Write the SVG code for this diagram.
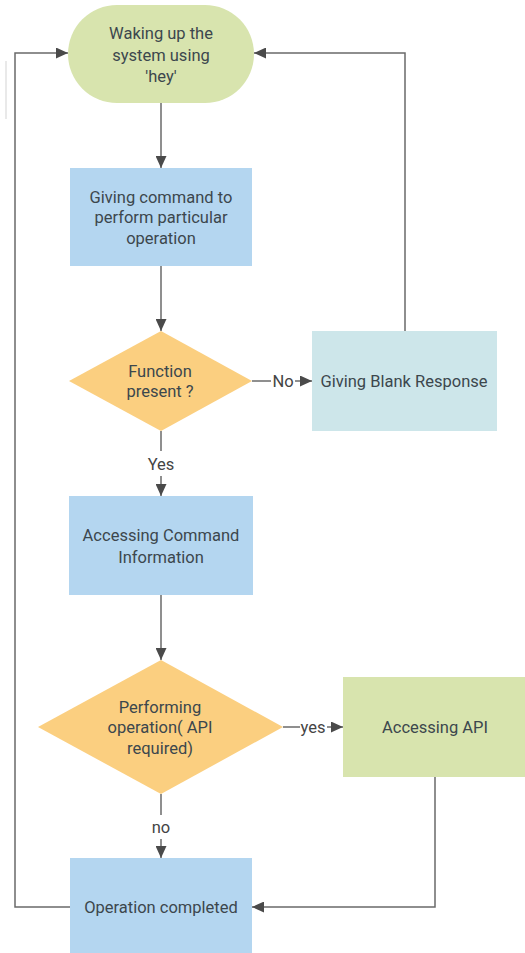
<svg xmlns="http://www.w3.org/2000/svg" width="525" height="953" viewBox="0 0 525 953">
<defs>
<marker id="ah" markerWidth="12" markerHeight="11" refX="12" refY="5.5" orient="auto" markerUnits="userSpaceOnUse">
<path d="M0,0 L12,5.5 L0,11 Z" fill="#4a4a4a"/>
</marker>
<style>
.t{font-family:Roboto,"Liberation Sans",sans-serif;font-size:16.5px;fill:#3c474d;text-anchor:middle;dominant-baseline:central}
.l{font-family:Roboto,"Liberation Sans",sans-serif;font-size:16.5px;fill:#444;text-anchor:middle;dominant-baseline:central}
.c{fill:none;stroke:#6a6a6a;stroke-width:1.5}
</style>
</defs>
<rect width="525" height="953" fill="#ffffff"/>
<line x1="6" y1="61" x2="6" y2="119" stroke="#e2e2e2" stroke-width="1.5"/>
<g id="start">
<rect x="68" y="5" width="186" height="98" rx="49" fill="#d8e4ae"/>
<text class="t" x="161" y="33">Waking up the</text>
<text class="t" x="161" y="55">system using</text>
<text class="t" x="161" y="76">'hey'</text>
</g>
<g id="command">
<rect x="70" y="168" width="182" height="98" fill="#b4d6f0"/>
<text class="t" x="161" y="197">Giving command to</text>
<text class="t" x="161" y="217">perform particular</text>
<text class="t" x="161" y="238">operation</text>
</g>
<g id="function">
<polygon points="161,331 252,381 161,431 69,381" fill="#fbcf80"/>
<text class="t" x="160" y="371">Function</text>
<text class="t" x="160" y="391">present ?</text>
</g>
<g id="blank">
<rect x="312" y="331" width="185" height="100" fill="#cde6ea"/>
<text class="t" x="404" y="381">Giving Blank Response</text>
</g>
<g id="access">
<rect x="69" y="496" width="184" height="99" fill="#b4d6f0"/>
<text class="t" x="161" y="535">Accessing Command</text>
<text class="t" x="161" y="557">Information</text>
</g>
<g id="perform">
<polygon points="161,660 283,727 161,794 38,727" fill="#fbcf80"/>
<text class="t" x="160" y="707">Performing</text>
<text class="t" x="160" y="727">operation( API</text>
<text class="t" x="160" y="748">required)</text>
</g>
<g id="api">
<rect x="343" y="677" width="184" height="100" fill="#d8e4ae"/>
<text class="t" x="435" y="727">Accessing API</text>
</g>
<g id="done">
<rect x="70" y="858" width="182" height="98" fill="#b4d6f0"/>
<text class="t" x="161" y="907">Operation completed</text>
</g>
<g id="connectors">
<path class="c" d="M161,103 V168" marker-end="url(#ah)"/>
<path class="c" d="M161,266 V331" marker-end="url(#ah)"/>
<path class="c" d="M252,381 H271"/>
<text class="l" x="283" y="381">No</text>
<path class="c" d="M295,381 H312" marker-end="url(#ah)"/>
<path class="c" d="M405,331 V53 H254" marker-end="url(#ah)"/>
<path class="c" d="M161,431 V451"/>
<text class="l" x="161" y="464">Yes</text>
<path class="c" d="M161,476 V496" marker-end="url(#ah)"/>
<path class="c" d="M161,595 V660" marker-end="url(#ah)"/>
<path class="c" d="M283,727 H300"/>
<text class="l" x="313" y="727">yes</text>
<path class="c" d="M327,727 H343" marker-end="url(#ah)"/>
<path class="c" d="M161,794 V815"/>
<text class="l" x="161" y="827">no</text>
<path class="c" d="M161,839 V858" marker-end="url(#ah)"/>
<path class="c" d="M435,777 V907 H252" marker-end="url(#ah)"/>
<path class="c" d="M70,907 H15 V53 H68" marker-end="url(#ah)"/>
</g>
</svg>
